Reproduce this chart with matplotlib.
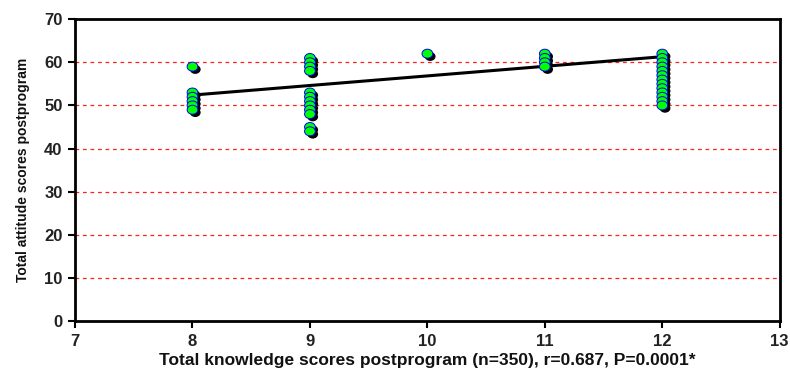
import numpy as np
import matplotlib
matplotlib.use('Agg')
import matplotlib.pyplot as plt
import matplotlib.patheffects as pe
from matplotlib.path import Path

# 知识得分（x）与态度得分（y）
knowledge_8 = [59, 53, 52, 51, 50, 49]
knowledge_9 = [61, 60, 59, 58, 53, 52, 51, 50, 49, 48, 45, 44]
knowledge_10 = [62]
knowledge_11 = [62, 61, 60, 59]
knowledge_12 = [62, 61, 60, 59, 58, 57, 56, 55, 54, 53, 52, 51, 50]

groups = {8: knowledge_8, 9: knowledge_9, 10: knowledge_10,
          11: knowledge_11, 12: knowledge_12}

# 回归线两端
fit_x = [8, 12]
fit_y = [52.4, 61.3]

x_ticks = [7, 8, 9, 10, 11, 12, 13]
y_ticks = [0, 10, 20, 30, 40, 50, 60, 70]

plt.rcParams['font.family'] = ['Liberation Sans', 'DejaVu Sans']

xs = []
ys = []
for k, vals in groups.items():
    xs += [k] * len(vals)
    ys += vals

# 稍扁的椭圆点
circle = Path.unit_circle()
ellipse = Path(circle.vertices * np.array([1.2, 1.0]), circle.codes)

fig = plt.figure(figsize=(7.9, 3.76), dpi=100)
ax = fig.add_axes([0.095, 0.146, 0.892, 0.803])

for y in y_ticks[1:-1]:
    ax.axhline(y, color='#ff2020', linestyle=(0, (3, 3)), linewidth=0.9, zorder=1)

ax.plot(fit_x, fit_y, color='black', linewidth=2.2, zorder=2)

sc = ax.scatter(xs, ys, s=60, marker=ellipse, facecolor='#00ff00',
                edgecolor='#0000ff', linewidth=0.7, zorder=3)
sc.set_path_effects([pe.SimplePatchShadow(offset=(2, -2), shadow_rgbFace='black', alpha=1.0),
                     pe.Normal()])

ax.set_xlim(7, 13)
ax.set_ylim(0, 70)
ax.set_xticks(x_ticks)
ax.set_yticks(y_ticks)
ax.tick_params(axis='both', direction='out', length=5, width=1.5, labelsize=12, pad=4)
for lab in ax.get_xticklabels() + ax.get_yticklabels():
    lab.set_fontweight('bold')
    lab.set_color('#222222')

for side in ['left', 'bottom', 'top', 'right']:
    ax.spines[side].set_linewidth(2)

ax.set_xlabel('Total knowledge scores postprogram (n=350), r=0.687, P=0.0001*',
              fontsize=12.5, fontweight='bold', labelpad=3, color='#111111')
ax.set_ylabel('Total attitude scores postprogram', fontsize=10, fontweight='bold',
              labelpad=10, color='#111111')

fig.savefig('out.png', dpi=100)
